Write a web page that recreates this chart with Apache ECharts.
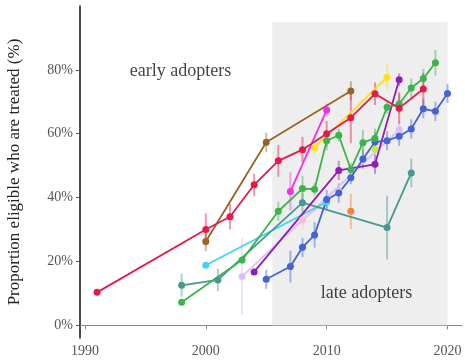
<!DOCTYPE html>
<html>
<head>
<meta charset="utf-8">
<script src="https://cdn.jsdelivr.net/npm/echarts@6/dist/echarts.min.js"></script>
<style>
  html, body { margin: 0; padding: 0; background: #fff; }
  #chart { width: 465px; height: 360px; }
</style>
</head>
<body>
<div id="chart"></div>
<script>
// tick labels
var yearTicks = [1990, 2000, 2010, 2020];
var pctTicks = [0, 20, 40, 60, 80];

// shaded "late adopters" period: [x0, x1, y0, y1]
var lateBox = [2005.5, 2020, 0, 95];

// annotations
var noteText = ['early adopters', 'late adopters'];
var noteYear = [1997.9, 2013.3];
var notePct = [79.7, 10];

// one set of arrays per country line (year, % treated, half error bar)
var redYears = [1991, 2000, 2002, 2004, 2006, 2008, 2010, 2012, 2014, 2016, 2018];
var redVals  = [10.3, 30, 34, 44, 51.5, 55, 60, 65, 72.5, 68, 74];
var redErr   = [0, 5, 4, 3.5, 5, 4, 4, 8, 3.5, 5, 5];

var brownYears = [2000, 2005, 2012];
var brownVals  = [26.2, 57.3, 73.4];
var brownErr   = [3, 3, 3];

var greenYears = [1998, 2003, 2006, 2008, 2009, 2010, 2011, 2012, 2013, 2014, 2015, 2016, 2017, 2018, 2019];
var greenVals  = [7.2, 20.4, 35.7, 42.8, 42.6, 57.8, 59.5, 48.8, 57.2, 58.6, 68.3, 69.3, 74.3, 77.3, 82.2];
var greenErr   = [0, 1, 3, 4, 2, 3, 2, 2, 4, 3, 2, 3, 3, 3, 4];

var tealYears = [1998, 2001, 2008, 2015, 2017];
var tealVals  = [12.5, 14.2, 38.4, 30.6, 47.7];
var tealErr   = [3.6, 3.5, 3, 10, 4.5];

var magentaYears = [2007, 2010];
var magentaVals  = [41.9, 67.4];
var magentaErr   = [6, 2];

var yellowYears = [2009, 2015];
var yellowVals  = [55.6, 77.7];
var yellowErr   = [2, 4];

var purpleYears = [2004, 2011, 2014, 2016];
var purpleVals  = [16.7, 48.5, 50.4, 76.9];
var purpleErr   = [1, 3, 3, 2];

var blueYears = [2005, 2007, 2008, 2009, 2010, 2011, 2012, 2013, 2014, 2015, 2016, 2017, 2018, 2019, 2020];
var blueVals  = [14.4, 18.4, 24.4, 28.3, 39.4, 41.4, 46.2, 52.1, 57.4, 57.8, 59.2, 61.5, 67.8, 67, 72.6];
var blueErr   = [3, 5, 3, 4, 3, 3, 2, 3, 3, 3, 3, 3, 3, 3, 3];

var cyanYears = [2000, 2010];
var cyanVals  = [18.8, 38.6];
var cyanErr   = [1, 2];

var lavenderYears = [2003, 2016];
var lavenderVals  = [15.3, 61.2];
var lavenderErr   = [12, 3];

var pinkYears = [2008, 2011];
var pinkVals  = [33, 42];
var pinkErr   = [3, 2];

var orangeYears = [2012];
var orangeVals  = [35.7];
var orangeErr   = [5.5];

var limeYears = [2014];
var limeVals  = [55.2];
var limeErr   = [2];

var lines = [
  ['lavender', '#dcbeff', lavenderYears, lavenderVals, lavenderErr],
  ['pink', '#fabed4', pinkYears, pinkVals, pinkErr],
  ['cyan', '#42d4f4', cyanYears, cyanVals, cyanErr],
  ['teal', '#469990', tealYears, tealVals, tealErr],
  ['orange', '#f58231', orangeYears, orangeVals, orangeErr],
  ['lime', '#bfef45', limeYears, limeVals, limeErr],
  ['yellow', '#ffe119', yellowYears, yellowVals, yellowErr],
  ['brown', '#9a6324', brownYears, brownVals, brownErr],
  ['magenta', '#f032e6', magentaYears, magentaVals, magentaErr],
  ['purple', '#911eb4', purpleYears, purpleVals, purpleErr],
  ['blue', '#4363d8', blueYears, blueVals, blueErr],
  ['green', '#3cb44b', greenYears, greenVals, greenErr],
  ['red', '#e6194b', redYears, redVals, redErr]
];

var serif = '"Liberation Serif", "DejaVu Serif", serif';

var series = [];

// grey shaded box
series.push({
  type: 'line',
  data: [],
  silent: true,
  z: 0,
  markArea: {
    silent: true,
    itemStyle: { color: '#eeeeee' },
    data: [[{ coord: [lateBox[0], lateBox[2]] }, { coord: [lateBox[1], lateBox[3]] }]]
  }
});

// error bars first, then the lines on top
for (var i = 0; i < lines.length; i++) {
  var l = lines[i];
  var bars = [];
  for (var k = 0; k < l[2].length; k++) {
    bars.push([l[2][k], l[3][k] - l[4][k], l[3][k] + l[4][k]]);
  }
  series.push({
    type: 'custom',
    name: l[0] + '_err',
    silent: true,
    z: 1,
    data: bars,
    renderItem: (function (col) {
      return function (params, api) {
        var p0 = api.coord([api.value(0), api.value(1)]);
        var p1 = api.coord([api.value(0), api.value(2)]);
        return {
          type: 'line',
          shape: { x1: p0[0], y1: p0[1], x2: p1[0], y2: p1[1] },
          style: { stroke: col, lineWidth: 2, opacity: 0.45 }
        };
      };
    })(l[1])
  });
}

for (var j = 0; j < lines.length; j++) {
  var s = lines[j];
  var pts = [];
  for (var m = 0; m < s[2].length; m++) {
    pts.push([s[2][m], s[3][m]]);
  }
  series.push({
    type: 'line',
    name: s[0],
    z: 2,
    data: pts,
    symbol: 'circle',
    symbolSize: 7,
    showSymbol: true,
    lineStyle: { color: s[1], width: 1.8 },
    itemStyle: { color: s[1] }
  });
}

// text notes
var notes = [];
for (var n = 0; n < noteText.length; n++) {
  notes.push([noteYear[n], notePct[n], noteText[n]]);
}
series.push({
  type: 'scatter',
  data: notes,
  symbolSize: 0,
  silent: true,
  z: 3,
  label: {
    show: true,
    position: 'inside',
    formatter: function (p) { return p.data[2]; },
    fontFamily: serif,
    fontSize: 18,
    color: '#111'
  }
});

var chart = echarts.init(document.getElementById('chart'));
chart.setOption({
  animation: false,
  backgroundColor: '#fff',
  grid: { left: 80, right: 3, top: 6, bottom: 22, containLabel: false, outerBoundsMode: 'none' },
  xAxis: {
    type: 'value',
    min: 1989.59,
    max: 2021.2,
    splitLine: { show: false },
    axisLine: { show: true, lineStyle: { color: '#888', width: 1.2 } },
    axisTick: { show: true, customValues: yearTicks, length: 4, lineStyle: { color: '#888' } },
    axisLabel: {
      customValues: yearTicks,
      formatter: function (v) { return String(v); },
      color: '#555',
      fontFamily: serif,
      fontSize: 14,
      margin: 6
    }
  },
  yAxis: {
    type: 'value',
    min: -4,
    max: 100,
    splitLine: { show: false },
    axisLine: { show: true, onZero: false, lineStyle: { color: '#111', width: 1.5 } },
    axisTick: { show: true, customValues: pctTicks, length: 4, lineStyle: { color: '#555' } },
    axisLabel: {
      customValues: pctTicks,
      formatter: '{value}%',
      color: '#555',
      fontFamily: serif,
      fontSize: 14,
      margin: 7
    },
    name: 'Proportion eligible who are treated (%)',
    nameLocation: 'middle',
    nameGap: 57,
    nameTextStyle: { fontFamily: serif, fontSize: 17, color: '#222' }
  },
  series: series
});
</script>
</body>
</html>
